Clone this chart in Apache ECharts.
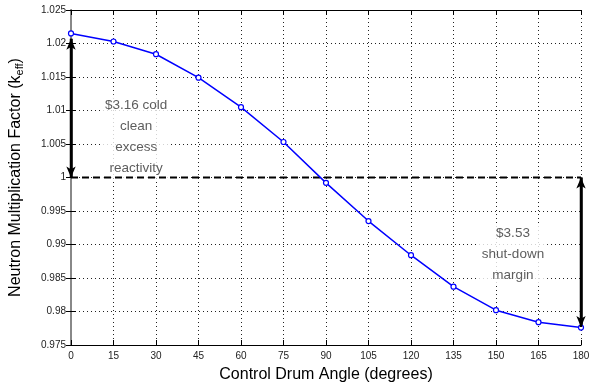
<!DOCTYPE html>
<html>
<head>
<meta charset="utf-8">
<script src="https://cdn.jsdelivr.net/npm/echarts@6/dist/echarts.min.js"></script>
<style>
html,body{margin:0;padding:0;background:#fff;}
#c{width:590px;height:385px;}
</style>
</head>
<body>
<div id="c"></div>
<script>
// Data
var angles = [0, 15, 30, 45, 60, 75, 90, 105, 120, 135, 150, 165, 180];
var keff = [1.0215, 1.0203, 1.0184, 1.0149, 1.0105, 1.0053, 0.9992, 0.9935, 0.9884, 0.9837, 0.9802, 0.9784, 0.9776];
var xTicks = [0, 15, 30, 45, 60, 75, 90, 105, 120, 135, 150, 165, 180];
var yTicks = [0.975, 0.98, 0.985, 0.99, 0.995, 1, 1.005, 1.01, 1.015, 1.02, 1.025];
var critical = 1.0;
var leftArrow = [[0, 1.0207], [0, 1.0]];
var rightArrow = [[180, 1.0], [180, 0.9777]];
var notes = [
  {x: 23, y: 1.0061, text: '$3.16 cold\nclean\nexcess\nreactivity'},
  {x: 156, y: 0.9885, text: '$3.53\nshut-down\nmargin'}
];

var FONT = '"Liberation Sans", Arial, Helvetica, sans-serif';
var chart = echarts.init(document.getElementById('c'), null, {renderer: 'canvas'});

function fmtY(v) {
  return String(parseFloat(v.toFixed(3)));
}

var baseX = {
  type: 'value', min: 0, max: 180, interval: 15,
  axisLine: {show: true, lineStyle: {color: '#000', width: 1}},
  axisTick: {show: true, inside: true, length: 5, lineStyle: {color: '#000'}},
  splitLine: {show: false}
};
var baseY = {
  type: 'value', min: 0.975, max: 1.025, interval: 0.005,
  axisLine: {show: true, lineStyle: {color: '#000', width: 1}},
  axisTick: {show: true, inside: true, length: 5, lineStyle: {color: '#000'}},
  splitLine: {show: false}
};

var option = {
  animation: false,
  backgroundColor: '#fff',
  grid: {left: 71, right: 9, top: 10, bottom: 40, containLabel: false, outerBoundsMode: 'none'},
  xAxis: [
    Object.assign({}, baseX, {
      position: 'bottom',
      name: 'Control Drum Angle (degrees)',
      nameLocation: 'middle', nameGap: 22,
      nameTextStyle: {fontFamily: FONT, fontSize: 16, color: '#000'},
      axisLabel: {show: true, fontFamily: FONT, fontSize: 10, color: '#222', margin: 6,
        formatter: function (v) { return xTicks.indexOf(v) >= 0 ? String(v) : ''; }},
      splitLine: {show: true, lineStyle: {color: '#222', type: [1, 3], width: 1}}
    }),
    Object.assign({}, baseX, {position: 'top', axisLabel: {show: false}})
  ],
  yAxis: [
    Object.assign({}, baseY, {
      position: 'left',
      name: 'Neutron Multiplication Factor (k{sub|eff})',
      nameLocation: 'middle', nameGap: 46,
      nameTextStyle: {fontFamily: FONT, fontSize: 16, color: '#000',
        rich: {sub: {fontFamily: FONT, fontSize: 11, color: '#000', verticalAlign: 'bottom', padding: [7, 0, 0, 0]}}},
      axisLabel: {show: true, fontFamily: FONT, fontSize: 10, color: '#222', margin: 5,
        formatter: function (v) { return fmtY(v); }},
      splitLine: {show: true, lineStyle: {color: '#222', type: [1, 3], width: 1}}
    }),
    Object.assign({}, baseY, {position: 'right', axisLabel: {show: false},
      axisLine: {show: true, lineStyle: {color: '#888', width: 2}}})
  ],
  series: [
    {
      type: 'line', name: 'critical', xAxisIndex: 0, yAxisIndex: 0,
      data: [[0, critical], [180, critical]],
      symbol: 'none', silent: true, z: 5,
      lineStyle: {color: '#000', width: 2, type: [7, 4]}
    },
    {
      type: 'line', name: 'keff', xAxisIndex: 0, yAxisIndex: 0,
      data: angles.map(function (a, i) { return [a, keff[i]]; }),
      symbol: 'circle', symbolSize: 5, showSymbol: true, z: 6,
      itemStyle: {color: '#fff', borderColor: '#0000ff', borderWidth: 1.2},
      lineStyle: {color: '#0000ff', width: 1.5}
    },
    {
      type: 'line', name: 'excess', xAxisIndex: 0, yAxisIndex: 0,
      data: leftArrow, symbol: 'none', z: 7,
      lineStyle: {color: '#000', width: 2.5},
      markLine: {
        silent: true, symbol: ['arrow', 'arrow'], symbolSize: [7, 11],
        lineStyle: {color: '#000', width: 2.5, type: 'solid'},
        label: {show: false},
        data: [[{coord: leftArrow[0]}, {coord: leftArrow[1]}]]
      }
    },
    {
      type: 'line', name: 'margin', xAxisIndex: 0, yAxisIndex: 0,
      data: rightArrow, symbol: 'none', z: 7,
      lineStyle: {color: '#000', width: 2.5},
      markLine: {
        silent: true, symbol: ['arrow', 'arrow'], symbolSize: [7, 11],
        lineStyle: {color: '#000', width: 2.5, type: 'solid'},
        label: {show: false},
        data: [[{coord: rightArrow[0]}, {coord: rightArrow[1]}]]
      }
    },
    {
      type: 'scatter', name: 'notes', xAxisIndex: 0, yAxisIndex: 0,
      data: notes.map(function (n) { return {value: [n.x, n.y], text: n.text}; }),
      symbolSize: 0, z: 4,
      label: {
        show: true, position: 'inside',
        formatter: function (p) { return p.data.text; },
        fontFamily: FONT, fontSize: 13.5, color: '#333', lineHeight: 21,
        align: 'center', verticalAlign: 'middle',
        backgroundColor: '#fff', padding: [0, 3]
      }
    }
  ]
};
chart.setOption(option);
</script>
</body>
</html>
